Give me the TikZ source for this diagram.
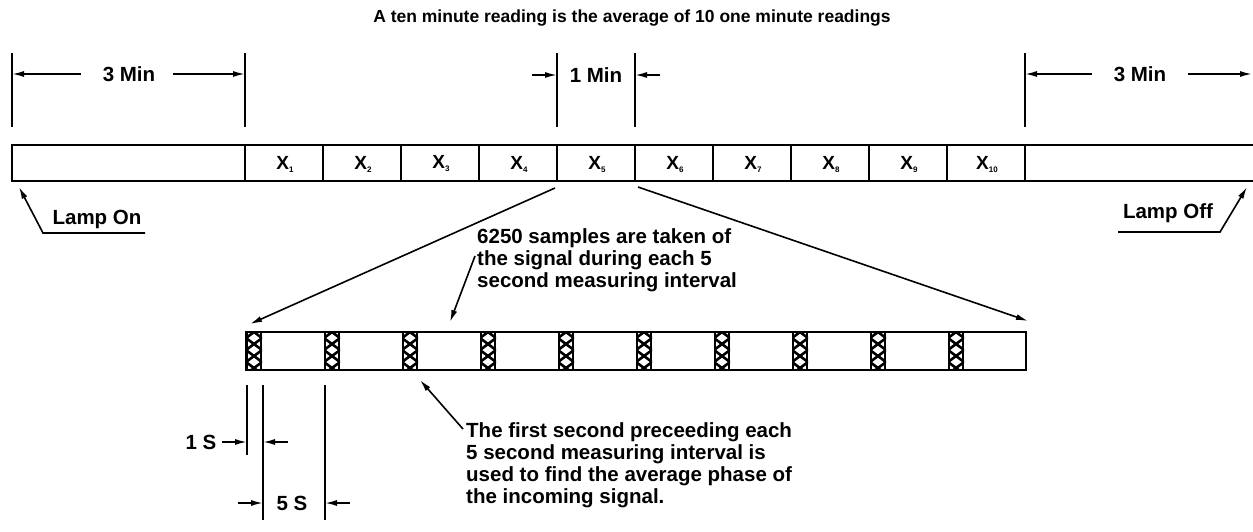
\documentclass[tikz,border=0pt]{standalone}
\usepackage{fontspec}
\setmainfont{Liberation Sans}
\usetikzlibrary{arrows.meta}

\newcommand{\xsub}[1]{X\raisebox{-3pt}{\fontsize{8}{8}\selectfont\bfseries #1}}

\begin{document}
\begin{tikzpicture}[x=1pt,y=-1pt,
  barline/.style={line width=2.4pt},
  cellline/.style={line width=1.5pt},
  dimline/.style={line width=1.4pt},
  dimarrow/.style={line width=1.6pt,-{Latex[length=12pt,width=6pt]}},
  hatch/.style={line width=2.6pt},
  lbl/.style={font=\fontsize{20.5}{22}\selectfont\bfseries,inner sep=0pt},
  notes/.style={lbl,align=left,anchor=north west}]

\useasboundingbox (0,0) rectangle (1253,531);

\node [lbl,font=\fontsize{17.5}{20}\selectfont\bfseries] (title) at (632,18) {A ten minute reading is the average of 10 one minute readings};

% upper bar: warm up, ten readings, run out
\draw [barline] (1253,145) -- (12,145) -- (12,181) -- (1253,181);
\foreach \i in {0,...,10}
  \draw [cellline] (245+78*\i,145) -- (245+78*\i,181);
\foreach \i in {1,...,10}
  \node [lbl,font=\fontsize{19}{20}\selectfont\bfseries] (x\i) at (207+78*\i,164) {\xsub{\i}};

% extension lines above the bar
\foreach \x/\n in {12/a,245/b,557/c,635/d,1025/e} {
  \coordinate (top\n) at (\x,53);
  \coordinate (bot\n) at (\x,127);
  \draw [dimline] (top\n) -- (bot\n);
}

\node [lbl] (threeL) at (129,74) {3 Min};
\node [lbl] (oneM) at (596,75) {1 Min};
\node [lbl] (threeR) at (1140,74) {3 Min};

\coordinate (dimA) at (12,74);
\coordinate (dimB) at (245,74);
\coordinate (dimC) at (557,75);
\coordinate (dimC0) at (532,75);
\coordinate (dimD) at (635,75);
\coordinate (dimD0) at (660,75);
\coordinate (dimE) at (1025,74);
\coordinate (dimF) at (1252,74);

\draw [dimarrow,shorten <=22pt] (threeL.west) -- (dimA);
\draw [dimarrow,shorten <=18pt] (threeL.east) -- (dimB);
\draw [dimarrow] (dimC0) -- (dimC);
\draw [dimarrow] (dimD0) -- (dimD);
\draw [dimarrow,shorten <=22pt] (threeR.west) -- (dimE);
\draw [dimarrow,shorten <=22pt] (threeR.east) -- (dimF);

% lamp on / lamp off
\node [lbl] (lampon) at (97,219) {Lamp On};
\coordinate (onA) at (145,233);
\coordinate (onB) at (43,233);
\coordinate (onTip) at (19,187);
\draw [dimarrow] (onA) -- (onB) -- (onTip);

\node [lbl] (lampoff) at (1168,213) {Lamp Off};
\coordinate (offA) at (1118,232);
\coordinate (offB) at (1220,232);
\coordinate (offTip) at (1247,187);
\draw [dimarrow] (offA) -- (offB) -- (offTip);

% blow up of one reading
\coordinate (x5L) at (555,188);
\coordinate (x5R) at (638,187);
\coordinate (lowL) at (250,324);
\coordinate (lowR) at (1028,321);
\draw [dimarrow] (x5L) -- (lowL);
\draw [dimarrow] (x5R) -- (lowR);

\node [notes] (samples) at (477,228) {6250 samples are taken of\\the signal during each 5\\second measuring interval};
\coordinate (smpTail) at (475,256);
\coordinate (smpTip) at (450,322);
\draw [dimarrow] (smpTail) -- (smpTip);

% lower bar, 1 s phase + 5 s measuring
\foreach \i in {0,...,9} {
  \begin{scope}
    \clip (246+78*\i,332) rectangle +(16,38);
    \foreach \k in {-1,...,4} {
      \draw [hatch] (246+78*\i,326+12*\k) -- ++(16,12);
      \draw [hatch] (262+78*\i,326+12*\k) -- ++(-16,12);
    }
  \end{scope}
  \draw [line width=2.8pt] (247+78*\i,332) -- ++(0,38);
  \draw [line width=2.4pt] (261+78*\i,332) -- ++(0,38);
}
\draw [barline] (246,332) rectangle (1026,370);

\node [notes] (phase) at (466,422) {The first second preceeding each\\5 second measuring interval is\\used to find the average phase of\\the incoming signal.};
\coordinate (phTail) at (463,429);
\coordinate (phTip) at (420,380);
\draw [dimarrow] (phTail) -- (phTip);

% 1 S and 5 S
\coordinate (sA) at (247,385);
\coordinate (sA1) at (247,455);
\coordinate (sB) at (263,385);
\coordinate (sB1) at (263,520);
\coordinate (sC) at (325,385);
\coordinate (sC1) at (325,520);
\draw [dimline] (sA) -- (sA1);
\draw [dimline] (sB) -- (sB1);
\draw [dimline] (sC) -- (sC1);

\node [lbl] (oneS) at (201,442) {1 S};
\node [lbl] (fiveS) at (292,503) {5 S};
\coordinate (oneSa) at (247,442);
\coordinate (oneSb0) at (288,442);
\coordinate (oneSb) at (263,442);
\coordinate (fiveSa0) at (238,503);
\coordinate (fiveSa) at (263,503);
\coordinate (fiveSb0) at (350,503);
\coordinate (fiveSb) at (325,503);
\draw [dimarrow,shorten <=5pt] (oneS.east) -- (oneSa);
\draw [dimarrow] (oneSb0) -- (oneSb);
\draw [dimarrow] (fiveSa0) -- (fiveSa);
\draw [dimarrow] (fiveSb0) -- (fiveSb);

\end{tikzpicture}
\end{document}
